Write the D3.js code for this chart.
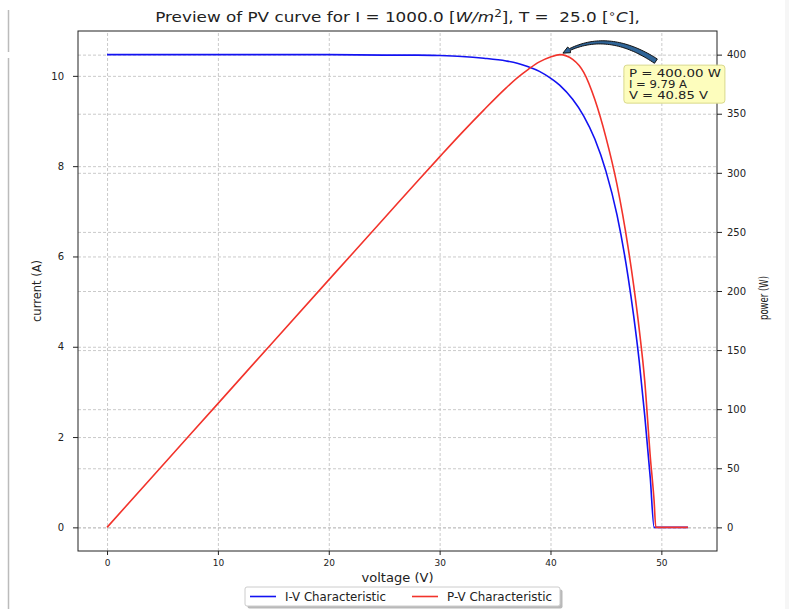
<!DOCTYPE html>
<html>
<head>
<meta charset="utf-8">
<script src="https://cdn.jsdelivr.net/npm/d3@7"></script>
<style>
  body { margin: 0; background: #fff; }
  svg text { font-family: "DejaVu Sans", sans-serif; fill: #222; }
  .grid line { stroke: #bdbdbd; stroke-width: 0.8; stroke-dasharray: 3,2; }
  .grid .domain { display: none; }
  .axis text { font-size: 10px; }
  .axis line, .axis path { stroke: #222; }
  .chart-label { font-size: 11.5px; }
</style>
</head>
<body>
<div id="chart"></div>
<script>
// values
const voltage = [0, 5, 10, 15, 20, 25, 28, 30, 32, 34, 36, 37, 38, 39, 40, 40.85, 42, 43, 44, 45, 46, 47, 47.5, 48, 48.5, 49, 49.35, 49.5, 50, 51, 52.4];
const current = [10.47, 10.47, 10.47, 10.47, 10.47, 10.46, 10.46, 10.45, 10.43, 10.39, 10.33, 10.28, 10.2, 10.1, 9.95, 9.79, 9.48, 9.11, 8.6, 7.89, 6.92, 5.55, 4.69, 3.69, 2.48, 1.1, 0, 0, 0, 0, 0];
const power = [0, 52.4, 104.7, 157.1, 209.4, 261.5, 292.9, 313.5, 333.8, 353.3, 371.9, 380.4, 387.6, 393.9, 398, 400, 396, 385, 362, 330, 290, 237, 205, 168, 124, 60, 22, 0, 0, 0, 0];

const xTicks = [0, 10, 20, 30, 40, 50];
const currentTicks = [0, 2, 4, 6, 8, 10];
const powerTicks = [0, 50, 100, 150, 200, 250, 300, 350, 400];

const seriesNames = ["I-V Characteristic", "P-V Characteristic"];
const seriesColors = ["#1212f2", "#f2332b"];

const mpp = {v: 40.85, i: 9.79, p: 400.00};

// dimensions
const W = 789, H = 609;
const margin = {top: 31, right: 72, bottom: 58, left: 78};
const width = W - margin.left - margin.right;
const height = H - margin.top - margin.bottom;

const svg = d3.select("#chart")
  .append("svg")
    .attr("width", W)
    .attr("height", H);

// screenshot edge
svg.append("rect").attr("x", 785).attr("y", 0).attr("width", 4).attr("height", H).attr("fill", "#f6f6f6");
svg.append("line").attr("x1", 8.5).attr("x2", 8.5).attr("y1", 10).attr("y2", 52).attr("stroke", "#bbb").attr("stroke-width", 1.5);
svg.append("line").attr("x1", 8.5).attr("x2", 8.5).attr("y1", 58).attr("y2", H).attr("stroke", "#bbb").attr("stroke-width", 1.5);

const g = svg.append("g")
  .attr("transform", `translate(${margin.left}, ${margin.top})`);

// scales with 5% padding like matplotlib
const pad = (ext) => { const d = (ext[1] - ext[0]) * 0.05; return [ext[0] - d, ext[1] + d]; };

const xScale = d3.scaleLinear().domain(pad(d3.extent(voltage))).range([0, width]);
const yCur = d3.scaleLinear().domain(pad(d3.extent(current))).range([height, 0]);
const yPow = d3.scaleLinear().domain(pad(d3.extent(power))).range([height, 0]);

// grids
g.append("g").attr("class", "grid")
  .attr("transform", `translate(0, ${height})`)
  .call(d3.axisBottom(xScale).tickValues(xTicks).tickSize(-height).tickFormat(""));
g.append("g").attr("class", "grid")
  .call(d3.axisLeft(yCur).tickValues(currentTicks).tickSize(-width).tickFormat(""));
g.append("g").attr("class", "grid")
  .call(d3.axisLeft(yPow).tickValues(powerTicks).tickSize(-width).tickFormat(""));

// lines
const ivLine = d3.line()
  .x((d, i) => xScale(voltage[i]))
  .y(d => yCur(d))
  .curve(d3.curveMonotoneX);
const pvLine = d3.line()
  .x((d, i) => xScale(voltage[i]))
  .y(d => yPow(d))
  .curve(d3.curveMonotoneX);

g.append("path")
  .datum(current)
  .attr("d", ivLine)
  .attr("fill", "none")
  .attr("stroke", seriesColors[0])
  .attr("stroke-width", 1.6);

g.append("path")
  .datum(power)
  .attr("d", pvLine)
  .attr("fill", "none")
  .attr("stroke", seriesColors[1])
  .attr("stroke-width", 1.6);

// frame
g.append("rect")
  .attr("width", width).attr("height", height)
  .attr("fill", "none").attr("stroke", "#222").attr("stroke-width", 1);

// axes
g.append("g").attr("class", "axis")
  .attr("transform", `translate(0, ${height})`)
  .call(d3.axisBottom(xScale).tickValues(xTicks).tickSize(4).tickPadding(5))
  .call(a => a.select(".domain").remove())
  .selectAll("text").style("font-size", "9px");

g.append("g").attr("class", "axis")
  .call(d3.axisLeft(yCur).tickValues(currentTicks).tickSize(5).tickPadding(9))
  .call(a => a.select(".domain").remove());

g.append("g").attr("class", "axis")
  .attr("transform", `translate(${width}, 0)`)
  .call(d3.axisRight(yPow).tickValues(powerTicks).tickSize(5).tickPadding(5))
  .call(a => a.select(".domain").remove());

// annotation arrow
const hx = xScale(mpp.v) + 3, hy = yPow(mpp.p) - 1.5;
const tx = hx + 93, ty = hy + 8;
const cx = hx + 43, cy = hy - 25;
const bez = (t) => [
  (1 - t) * (1 - t) * tx + 2 * (1 - t) * t * cx + t * t * hx,
  (1 - t) * (1 - t) * ty + 2 * (1 - t) * t * cy + t * t * hy
];
const steps = d3.range(0, 0.93, 0.02);
const sideA = [], sideB = [];
steps.forEach(t => {
  const p0 = bez(t), p1 = bez(Math.min(t + 0.01, 1));
  const dx = p1[0] - p0[0], dy = p1[1] - p0[1];
  const len = Math.hypot(dx, dy);
  const nx = -dy / len, ny = dx / len;
  const w = 2.6 - 1.8 * t;
  sideA.push([p0[0] + nx * w, p0[1] + ny * w]);
  sideB.push([p0[0] - nx * w, p0[1] - ny * w]);
});
const pEnd = bez(0.92);
const dxh = hx - pEnd[0], dyh = hy - pEnd[1];
const lh = Math.hypot(dxh, dyh);
const ux = dxh / lh, uy = dyh / lh;
const headBase = [hx - ux * 7, hy - uy * 7];
const headPts = [
  [headBase[0] - uy * 3.2, headBase[1] + ux * 3.2],
  [hx, hy],
  [headBase[0] + uy * 3.2, headBase[1] - ux * 3.2]
];
const arrowPts = sideA.concat([headPts[0], headPts[1], headPts[2]], sideB.reverse());
g.append("path")
  .attr("d", d3.line()(arrowPts) + "Z")
  .attr("fill", "#2f6497")
  .attr("stroke", "#111")
  .attr("stroke-width", 1)
  .attr("stroke-linejoin", "round");

// annotation box
const bx = hx + 61, by = hy + 12;
g.append("rect")
  .attr("x", bx).attr("y", by)
  .attr("width", 101).attr("height", 38)
  .attr("rx", 3)
  .attr("fill", "#fdfdbd")
  .attr("stroke", "#d9d98c")
  .attr("stroke-width", 1);
const annLines = [
  `P = ${mpp.p.toFixed(2)} W`,
  `I = ${mpp.i.toFixed(2)} A`,
  `V = ${mpp.v.toFixed(2)} V`
];
const annWidths = [92, 58, 79];
g.append("g")
  .selectAll("text")
  .data(annLines)
  .join("text")
    .attr("x", bx + 5)
    .attr("y", (d, i) => by + 11.5 + i * 11.3)
    .attr("textLength", (d, i) => annWidths[i])
    .attr("lengthAdjust", "spacingAndGlyphs")
    .style("font-size", "10px")
    .text(d => d);

// title
const title = svg.append("text")
  .attr("transform", `translate(${margin.left + width / 2}, 22) scale(1.2, 1)`)
  .attr("text-anchor", "middle")
  .style("font-size", "14px")
  .style("white-space", "pre");
title.append("tspan").text("Preview of PV curve for I = 1000.0 [");
title.append("tspan").style("font-style", "italic").text("W/m");
title.append("tspan").attr("dy", -5).style("font-size", "10px").text("2");
title.append("tspan").attr("dy", 5).text("], T =  25.0 [");
title.append("tspan").attr("dy", -5).style("font-size", "10px").text("\u2218");
title.append("tspan").attr("dy", 5).style("font-style", "italic").text("C");
title.append("tspan").text("],");

// axis labels
svg.append("text")
  .attr("class", "chart-label")
  .attr("x", margin.left + width / 2)
  .attr("y", 582)
  .attr("text-anchor", "middle")
  .attr("textLength", 72)
  .attr("lengthAdjust", "spacingAndGlyphs")
  .text("voltage (V)");

svg.append("text")
  .attr("class", "chart-label")
  .attr("transform", `translate(41, ${margin.top + height / 2}) rotate(-90)`)
  .attr("text-anchor", "middle")
  .text("current (A)");

svg.append("text")
  .attr("class", "chart-label")
  .attr("transform", `translate(768, 298) rotate(-90)`)
  .attr("text-anchor", "middle")
  .attr("textLength", 44)
  .attr("lengthAdjust", "spacingAndGlyphs")
  .style("font-size", "12px")
  .text("power (W)");

// legend with shadow
const legX = 245, legY = 587, legW = 315, legH = 19;
svg.append("rect")
  .attr("x", legX + 2.5).attr("y", legY + 2.5)
  .attr("width", legW).attr("height", legH)
  .attr("rx", 2).attr("fill", "#8a8a8a").attr("opacity", 0.6);
svg.append("rect")
  .attr("x", legX).attr("y", legY)
  .attr("width", legW).attr("height", legH)
  .attr("rx", 2).attr("fill", "#fff").attr("stroke", "#ccc");

const legendWidths = [101, 105];
const legend = svg.append("g")
  .selectAll("g")
  .data(seriesNames)
  .join("g")
    .attr("transform", (d, i) => `translate(${legX + 5 + i * 162}, ${legY + 9.5})`);
legend.append("line")
  .attr("x1", 0).attr("x2", 26)
  .attr("stroke", (d, i) => seriesColors[i])
  .attr("stroke-width", 1.6);
legend.append("text")
  .attr("x", 35).attr("y", 4)
  .attr("textLength", (d, i) => legendWidths[i])
  .attr("lengthAdjust", "spacingAndGlyphs")
  .style("font-size", "11.5px")
  .text(d => d);
</script>
</body>
</html>
